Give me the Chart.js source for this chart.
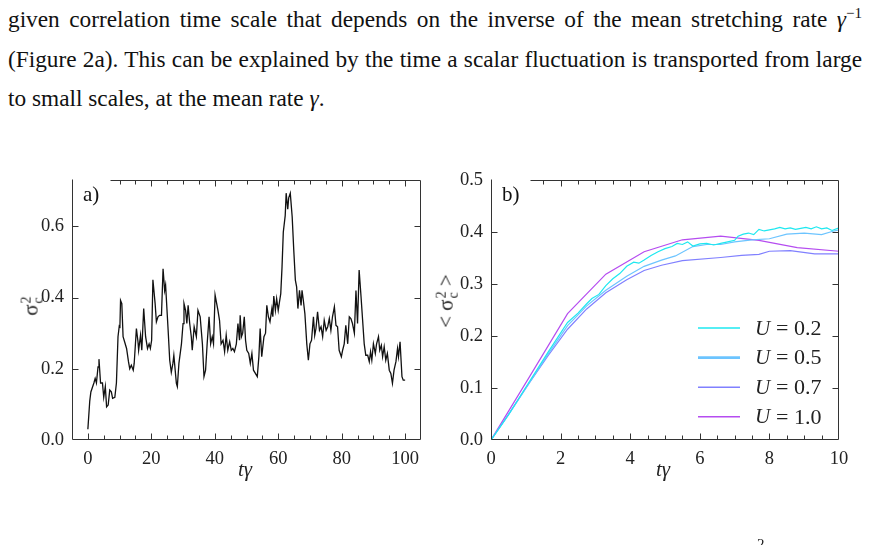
<!DOCTYPE html>
<html>
<head>
<meta charset="utf-8">
<script src="https://cdn.jsdelivr.net/npm/chart.js@4.4.1/dist/chart.umd.min.js"></script>
<style>
  html, body { margin: 0; padding: 0; background: #fff; }
  body { width: 869px; height: 545px; position: relative; overflow: hidden;
         font-family: "Liberation Serif", "Times New Roman", serif; color: #111; }
  .line { position: absolute; left: 8px; width: 854px; font-size: 23.3px; line-height: 26px;
          white-space: nowrap; }
  .just { text-align: justify; text-align-last: justify; white-space: normal; }
  canvas { position: absolute; }
  .lab { position: absolute; font-size: 21px; color: #222; white-space: nowrap; }
  .rot { transform: rotate(-90deg); transform-origin: center center; }
  .ss { display: inline-flex; flex-direction: column; vertical-align: middle;
        font-size: 14px; line-height: 12px; margin-left: 1px; }
</style>
</head>
<body>
<div class="line just" style="top:6px">given correlation time scale that depends on the inverse of the mean stretching rate <i>γ</i><sup style="font-size:15px;line-height:0">−1</sup></div>
<div class="line just" style="top:46px">(Figure 2a). This can be explained by the time a scalar fluctuation is transported from large</div>
<div class="line" style="top:85px">to small scales, at the mean rate <i>γ</i>.</div>

<canvas id="chartA" width="435" height="320" style="left:0;top:160px"></canvas>
<canvas id="chartB" width="429" height="320" style="left:440px;top:160px"></canvas>

<div class="lab" style="left:238px;top:457px"><i>tγ</i></div>
<div class="lab" style="left:656px;top:457px"><i>tγ</i></div>
<div class="lab rot" style="left:22px;top:293px">σ<span class="ss"><span>2</span><span>c</span></span></div>
<div class="lab rot" style="left:420px;top:288px">&lt;&nbsp;σ<span class="ss"><span>2</span><span>c</span></span>&nbsp;&gt;</div>
<div class="lab" style="left:757px;top:536px;font-size:15px">2</div>

<script>
// ---- panel a: sigma_c^2 vs t*gamma ----
var tA = [0, 0.6, 0.95, 1.9, 2.3, 2.7, 3.2, 3.5, 4.0, 4.6, 5.0, 5.5, 5.9, 6.4, 6.9, 7.4, 7.8, 8.5, 9.0, 9.5,
  9.9, 10.1, 10.3, 10.7, 11.1, 11.6, 12.2, 12.8, 13.2, 13.7, 14.3, 14.6, 15.3, 15.8, 16.0, 16.6, 17.0, 17.6, 18.2, 18.8,
  19.3, 19.7, 20.1, 20.5, 21.2, 21.6, 22.1, 22.6, 23.2, 23.7, 24.2, 24.5, 25.3, 25.8, 26.3, 26.8, 27.1, 27.9, 28.2, 28.7,
  29.5, 30.0, 30.3, 30.8, 31.2, 31.6, 32.1, 32.6, 32.9, 33.5, 34.2, 34.7, 35.4, 36.1, 36.6, 37.1, 37.6, 38.2, 38.7, 39.2,
  39.6, 40.1, 41.0, 41.5, 42.0, 42.6, 43.1, 43.6, 44.1, 44.7, 45.2, 45.7, 46.2, 46.8, 47.3, 47.8, 48.0, 48.4, 48.8, 49.3,
  49.7, 50.1, 50.7, 51.2, 51.7, 52.2, 52.8, 53.4, 53.9, 54.3, 54.8, 55.5, 56.0, 56.4, 56.9, 57.4, 58.0, 58.3, 58.6, 59.1,
  59.5, 60.0, 60.4, 60.8, 61.2, 61.6, 62.2, 62.5, 63.0, 63.3, 63.8, 64.4, 64.9, 65.4, 65.8, 66.2, 66.7, 67.2, 67.5, 67.9,
  68.4, 69.0, 69.5, 70.0, 70.5, 71.1, 71.5, 71.9, 72.4, 73.0, 73.5, 74.0, 74.5, 75.1, 75.6, 76.1, 76.6, 77.1, 77.7, 78.2,
  78.7, 79.2, 79.9, 80.3, 80.8, 81.3, 81.9, 82.4, 82.9, 83.4, 84.0, 84.5, 85.0, 85.5, 86.1, 86.6, 87.1, 87.6, 88.2, 88.7,
  89.1, 89.5, 90.0, 90.6, 91.0, 91.6, 92.0, 92.5, 92.9, 93.4, 93.9, 94.4, 95.0, 95.5, 96.0, 96.5, 97.1, 97.6, 97.9, 98.4,
  99.0, 99.4, 100];
var sigmaA = [0.03, 0.11, 0.135, 0.16, 0.173, 0.16, 0.205, 0.227, 0.16, 0.16, 0.12, 0.15, 0.093, 0.098, 0.14, 0.135, 0.117, 0.12, 0.16, 0.29,
  0.32, 0.318, 0.392, 0.383, 0.29, 0.275, 0.257, 0.22, 0.2, 0.21, 0.196, 0.215, 0.313, 0.276, 0.252, 0.294, 0.252, 0.369, 0.29, 0.257,
  0.27, 0.257, 0.28, 0.45, 0.383, 0.332, 0.346, 0.35, 0.35, 0.481, 0.42, 0.435, 0.308, 0.224, 0.19, 0.215, 0.238, 0.159, 0.15, 0.215,
  0.27, 0.327, 0.383, 0.364, 0.327, 0.378, 0.327, 0.29, 0.252, 0.318, 0.29, 0.364, 0.346, 0.27, 0.178, 0.196, 0.27, 0.346, 0.27, 0.29,
  0.27, 0.407, 0.364, 0.336, 0.27, 0.28, 0.248, 0.294, 0.252, 0.276, 0.252, 0.257, 0.248, 0.27, 0.327, 0.28, 0.35, 0.29, 0.3, 0.346,
  0.28, 0.252, 0.243, 0.215, 0.243, 0.196, 0.187, 0.178, 0.234, 0.313, 0.234, 0.29, 0.3, 0.378, 0.346, 0.332, 0.369, 0.346, 0.404, 0.364,
  0.397, 0.364, 0.388, 0.411, 0.486, 0.584, 0.63, 0.693, 0.648, 0.68, 0.693, 0.626, 0.533, 0.449, 0.43, 0.369, 0.42, 0.378, 0.42, 0.393,
  0.355, 0.27, 0.224, 0.27, 0.28, 0.346, 0.294, 0.313, 0.36, 0.308, 0.318, 0.29, 0.336, 0.308, 0.318, 0.341, 0.308, 0.346, 0.374, 0.322,
  0.318, 0.252, 0.234, 0.252, 0.27, 0.322, 0.27, 0.346, 0.341, 0.327, 0.3, 0.42, 0.327, 0.477, 0.402, 0.336, 0.27, 0.238, 0.238, 0.22,
  0.248, 0.224, 0.27, 0.243, 0.27, 0.29, 0.252, 0.266, 0.234, 0.262, 0.224, 0.243, 0.196, 0.187, 0.159, 0.196, 0.22, 0.257, 0.234, 0.276,
  0.178, 0.168, 0.168];
var xTicksA = [0, 20, 40, 60, 80, 100];
var yTicksA = [0.0, 0.2, 0.4, 0.6];

// ---- panel b: <sigma_c^2> vs t*gamma for several U ----
var tU02 = [0, 0.5, 1.1, 1.65, 2.2, 2.5, 2.75, 2.9, 3.1, 3.3, 3.5, 3.7, 3.9, 4.1, 4.25, 4.4, 4.6, 4.8, 5.0, 5.2,
  5.35, 5.5, 5.65, 5.8, 6.0, 6.2, 6.4, 6.6, 6.8, 7.0, 7.1, 7.25, 7.4, 7.55, 7.7, 7.85, 8.0, 8.15, 8.3, 8.45,
  8.6, 8.75, 8.9, 9.05, 9.2, 9.35, 9.5, 9.65, 9.8, 10];
var sU02 = [0, 0.048, 0.112, 0.17, 0.226, 0.244, 0.262, 0.272, 0.28, 0.297, 0.31, 0.32, 0.334, 0.342, 0.34, 0.346, 0.355, 0.362, 0.368, 0.372,
  0.378, 0.376, 0.381, 0.373, 0.377, 0.378, 0.375, 0.378, 0.381, 0.384, 0.392, 0.396, 0.398, 0.395, 0.405, 0.402, 0.404, 0.406, 0.409, 0.406,
  0.408, 0.405, 0.407, 0.409, 0.406, 0.41, 0.406, 0.408, 0.403, 0.408];
var tU05 = [0, 0.5, 1.1, 1.65, 2.2, 2.75, 3.3, 3.9, 4.4, 4.9, 5.3, 5.8, 6.2, 6.6, 7.0, 7.5, 8.0, 8.5, 9.0, 9.5, 9.8, 10];
var sU05 = [0, 0.048, 0.11, 0.166, 0.22, 0.258, 0.288, 0.315, 0.334, 0.346, 0.354, 0.372, 0.376, 0.376, 0.381, 0.385, 0.387, 0.396, 0.398, 0.395, 0.401, 0.404];
var tU07 = [0, 0.55, 1.1, 1.65, 2.2, 2.75, 3.3, 3.9, 4.4, 4.9, 5.5, 6.6, 7.2, 7.7, 8.0, 8.6, 9.3, 10];
var sU07 = [0, 0.054, 0.11, 0.163, 0.213, 0.252, 0.283, 0.308, 0.326, 0.336, 0.345, 0.351, 0.355, 0.357, 0.363, 0.364, 0.358, 0.358];
var tU10 = [0, 1.1, 2.2, 3.3, 4.4, 5.5, 6.6, 7.7, 8.8, 10];
var sU10 = [0, 0.121, 0.243, 0.319, 0.362, 0.385, 0.392, 0.384, 0.37, 0.363];
var labelsB = ['0.2', '0.5', '0.7', '1.0'];
var xTicksB = [0, 2, 4, 6, 8, 10];
var yTicksB = [0.0, 0.1, 0.2, 0.3, 0.4, 0.5];

var TICK_FONT = { family: '"Liberation Serif", serif', size: 18.5 };
var AXIS = '#333';

function pts(xs, ys) {
  var out = [];
  for (var i = 0; i < xs.length; i++) out.push({ x: xs[i], y: ys[i] });
  return out;
}

function fixTicks(vals) {
  return function (scale) { scale.ticks = vals.map(function (v) { return { value: v }; }); };
}

// frame with inward ticks, panel tag and (optionally) a legend
var framePlugin = {
  id: 'frame',
  afterDraw: function (chart, args, o) {
    var ctx = chart.ctx, a = chart.chartArea, xs = chart.scales.x, ys = chart.scales.y;
    var L = Math.round(a.left) + 0.5, R = Math.round(a.right) - 0.5;
    var T = Math.round(a.top) + 0.5, B = Math.round(a.bottom) - 0.5;
    var gap = Math.round(a.left + o.gap) + 0.5;
    ctx.save();
    ctx.strokeStyle = AXIS;
    ctx.lineWidth = 1;
    ctx.beginPath();
    ctx.moveTo(L, T - 1); ctx.lineTo(L, B); ctx.lineTo(R, B); ctx.lineTo(R, T); ctx.lineTo(gap, T);
    // x ticks (major + minor), bottom and top
    for (var v = xs.min; v <= xs.max + 1e-9; v += o.xMinor) {
      var vv = Math.round(v / o.xMinor) * o.xMinor;
      if (vv < xs.min || vv > xs.max) continue;
      var px = Math.round(xs.getPixelForValue(vv)) + 0.5;
      if (px <= L + 1 || px >= R - 1) continue;
      var major = xs.ticks.some(function (t) { return Math.abs(t.value - vv) < 1e-6; });
      var len = major ? 6 : 4;
      ctx.moveTo(px, B); ctx.lineTo(px, B - len);
      if (px > gap) { ctx.moveTo(px, T); ctx.lineTo(px, T + len); }
    }
    ys.ticks.forEach(function (t) {
      var py = Math.round(ys.getPixelForValue(t.value)) + 0.5;
      if (py >= B - 1 || py <= T + 1) return;
      ctx.moveTo(L, py); ctx.lineTo(L + 6, py);
      ctx.moveTo(R, py); ctx.lineTo(R - 6, py);
    });
    ctx.stroke();

    ctx.fillStyle = '#111';
    ctx.font = '21px "Liberation Serif", serif';
    ctx.textBaseline = 'alphabetic';
    ctx.fillText(o.tag, a.left + o.tagX, a.top + 21);

    if (o.legend) {
      var lg = o.legend;
      chart.data.datasets.forEach(function (ds, i) {
        var y = lg.y + i * lg.dy;
        ctx.strokeStyle = ds.borderColor;
        ctx.lineWidth = lg.widths[i];
        ctx.beginPath();
        ctx.moveTo(lg.x, y); ctx.lineTo(lg.x + lg.len, y);
        ctx.stroke();
        ctx.fillStyle = '#222';
        ctx.textBaseline = 'middle';
        ctx.font = 'italic 21px "Liberation Serif", serif';
        ctx.fillText('U', lg.x + lg.len + 15, y + 1);
        ctx.font = '22px "Liberation Serif", serif';
        ctx.fillText('=', lg.x + lg.len + 36, y + 1);
        ctx.fillText(ds.label, lg.x + lg.len + 54, y + 1);
      });
    }
    ctx.restore();
  }
};

function axes(xMin, xMax, yMin, yMax, xTicks, yTicks, yWidth, xDec) {
  return {
    x: {
      type: 'linear', min: xMin, max: xMax,
      afterBuildTicks: fixTicks(xTicks),
      afterFit: function (s) { s.height = 40; },
      grid: { display: false, drawTicks: false }, border: { display: false },
      ticks: { font: TICK_FONT, color: '#222', padding: 8, maxRotation: 0,
               callback: function (v) { return v.toFixed(xDec); } }
    },
    y: {
      type: 'linear', min: yMin, max: yMax,
      afterBuildTicks: fixTicks(yTicks),
      afterFit: function (s) { s.width = yWidth; },
      grid: { display: false, drawTicks: false }, border: { display: false },
      ticks: { font: TICK_FONT, color: '#222', padding: 8,
               callback: function (v) { return v.toFixed(1); } }
    }
  };
}

new Chart(document.getElementById('chartA'), {
  type: 'line',
  data: {
    datasets: [{ label: 'sigma', data: pts(tA, sigmaA), borderColor: '#111', borderWidth: 1.3,
                 pointRadius: 0, tension: 0, fill: false }]
  },
  options: {
    responsive: false, animation: false, devicePixelRatio: 1,
    layout: { padding: { left: 0, right: 14, top: 20, bottom: 0 } },
    plugins: { legend: { display: false }, tooltip: { enabled: false },
               frame: { gap: 38, tag: 'a)', tagX: 11, xMinor: 5 } },
    scales: axes(-5, 105, 0, 0.73, xTicksA, yTicksA, 72, 0)
  },
  plugins: [framePlugin]
});

var colorsB = ['#1ee8f0', '#6cc4ff', '#8080ff', '#b54cf0'];
var seriesB = [[tU02, sU02], [tU05, sU05], [tU07, sU07], [tU10, sU10]];

new Chart(document.getElementById('chartB'), {
  type: 'line',
  data: {
    datasets: seriesB.map(function (s, i) {
      return { label: labelsB[i], data: pts(s[0], s[1]), borderColor: colorsB[i], borderWidth: 1.2,
               pointRadius: 0, tension: 0, fill: false };
    })
  },
  options: {
    responsive: false, animation: false, devicePixelRatio: 1,
    layout: { padding: { left: 0, right: 30, top: 20, bottom: 0 } },
    plugins: { legend: { display: false }, tooltip: { enabled: false },
               frame: { gap: 39, tag: 'b)', tagX: 11, xMinor: 0.5,
                        legend: { x: 258, y: 168, dy: 29.6, len: 42, widths: [1.6, 2.6, 1.4, 1.6] } } },
    scales: axes(0, 10, 0, 0.5, xTicksB, yTicksB, 51, 0)
  },
  plugins: [framePlugin]
});
</script>
</body>
</html>
